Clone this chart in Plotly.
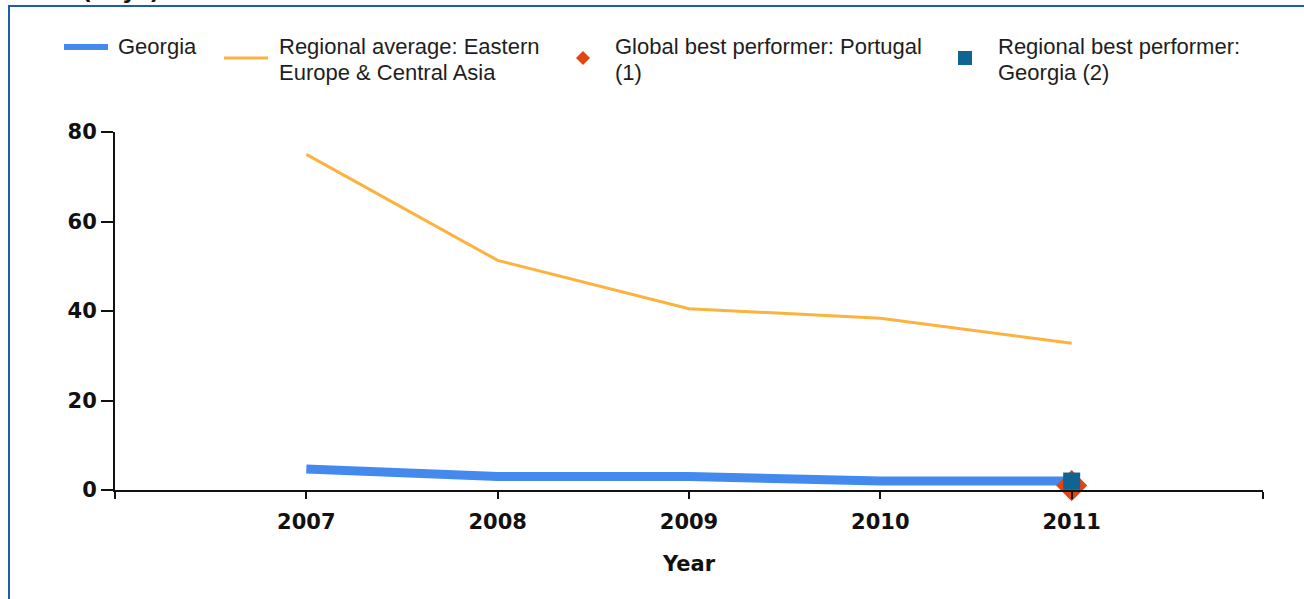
import plotly.graph_objects as go

years = [2007, 2008, 2009, 2010, 2011]
georgia = [4.7, 3.0, 3.0, 2.0, 2.0]
regional_avg = [75.0, 51.3, 40.5, 38.4, 32.8]
global_best_year = [2011]
global_best_val = [1.0]
regional_best_year = [2011]
regional_best_val = [2.0]

legend_labels = [
    ["Georgia"],
    ["Regional average: Eastern", "Europe & Central Asia"],
    ["Global best performer: Portugal", "(1)"],
    ["Regional best performer:", "Georgia (2)"],
]

BLUE = "#4489ee"
ORANGE = "#fbb23f"
RED = "#e2450f"
TEAL = "#0f6494"
FRAME = "#1d5ca6"

W, H = 1304, 599
L, R, T, B = 115, 41, 132, 109
PW, PH = W - L - R, H - T - B


def px(x):
    return (x - L) / PW


def py(y):
    return (H - B - y) / PH


fig = go.Figure()
fig.add_trace(go.Scatter(x=years, y=regional_avg, mode="lines",
                         line=dict(color=ORANGE, width=3), showlegend=False))
fig.add_trace(go.Scatter(x=years, y=georgia, mode="lines",
                         line=dict(color=BLUE, width=9), showlegend=False))
fig.add_trace(go.Scatter(x=global_best_year, y=global_best_val, mode="markers",
                         marker=dict(symbol="diamond", size=24, color=RED),
                         showlegend=False, cliponaxis=False))
fig.add_trace(go.Scatter(x=regional_best_year, y=regional_best_val, mode="markers",
                         marker=dict(symbol="square", size=17, color=TEAL),
                         showlegend=False, cliponaxis=False))

shapes = []
annotations = []
# frame
shapes.append(dict(type="rect", xref="paper", yref="paper",
                   x0=px(9), x1=px(1320), y0=py(615), y1=py(6),
                   line=dict(color=FRAME, width=2), fillcolor="rgba(0,0,0,0)",
                   layer="above"))
# legend symbols
shapes.append(dict(type="line", xref="paper", yref="paper",
                   x0=px(64), x1=px(108), y0=py(47), y1=py(47),
                   line=dict(color=BLUE, width=6)))
shapes.append(dict(type="line", xref="paper", yref="paper",
                   x0=px(224), x1=px(268), y0=py(58), y1=py(58),
                   line=dict(color=ORANGE, width=3)))
d = 7
shapes.append(dict(type="path", xref="paper", yref="paper",
                   path=f"M {px(583)} {py(58-d)} L {px(583+d)} {py(58)} L {px(583)} {py(58+d)} L {px(583-d)} {py(58)} Z",
                   fillcolor=RED, line=dict(width=0)))
s = 7
shapes.append(dict(type="rect", xref="paper", yref="paper",
                   x0=px(965 - s), x1=px(965 + s), y0=py(58 + s), y1=py(58 - s),
                   fillcolor=TEAL, line=dict(width=0)))

legend_x = [118, 279, 615, 998]
for lx, lines in zip(legend_x, legend_labels):
    for i, txt in enumerate(lines):
        annotations.append(dict(text=txt, xref="paper", yref="paper",
                                x=px(lx - 2), y=py(47 + 25 * i), xanchor="left", yanchor="middle",
                                align="left", showarrow=False,
                                font=dict(family="Liberation Sans, Arial, sans-serif",
                                          size=22, color="#1e1e1e")))
# clipped title fragment (top edge of the reference crops it)
annotations.append(dict(text="<b>(days)</b>", xref="paper", yref="paper",
                        x=px(80), y=py(6), xanchor="left", yanchor="bottom",
                        showarrow=False,
                        font=dict(family="DejaVu Sans, Verdana, sans-serif",
                                  size=22, color="#111")))

tick_font = dict(family="DejaVu Sans, Verdana, sans-serif", size=21, color="#111")

fig.update_layout(
    width=W, height=H,
    margin=dict(l=L, r=R, t=T, b=B, pad=0),
    paper_bgcolor="white", plot_bgcolor="white",
    shapes=shapes, annotations=annotations,
    xaxis=dict(range=[2006, 2012],
               tickvals=[2006, 2007, 2008, 2009, 2010, 2011, 2012],
               ticktext=["", "<b>2007</b>", "<b>2008</b>", "<b>2009</b>", "<b>2010</b>", "<b>2011</b>", ""],
               ticks="outside", ticklen=7, tickwidth=2, tickcolor="#111",
               showline=True, linecolor="#111", linewidth=2,
               showgrid=False, zeroline=False,
               tickfont=tick_font, ticklabelstandoff=5,
               title=dict(text="<b>Year</b>", font=tick_font, standoff=23)),
    yaxis=dict(range=[0, 80], tickvals=[0, 20, 40, 60, 80],
               ticktext=["<b>0</b>", "<b>20</b>", "<b>40</b>", "<b>60</b>", "<b>80</b>"],
               ticks="outside", ticklen=12, tickwidth=2, tickcolor="#111",
               showline=True, linecolor="#111", linewidth=2,
               showgrid=False, zeroline=False,
               tickfont=tick_font),
)

fig.write_html("out.html", config={"displayModeBar": False},
               post_script="document.body.style.margin='0';document.body.style.overflow='hidden';")
